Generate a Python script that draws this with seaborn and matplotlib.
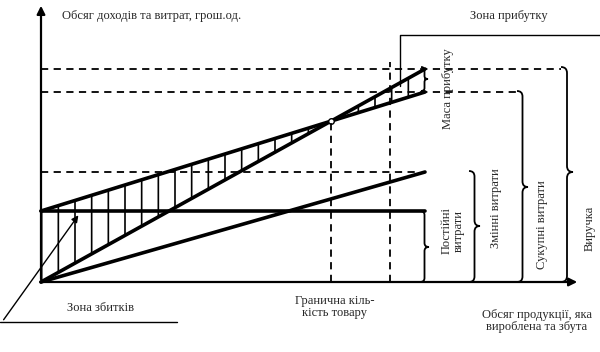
import numpy as np
import pandas as pd
import matplotlib.pyplot as plt
import seaborn as sns
from matplotlib.path import Path
from matplotlib.patches import PathPatch

# Break-even chart: output (x) against income / costs (y), arbitrary units
quantity = [0, 100]
fixed_costs = [71, 71]
variable_costs = [0, 110]
total_costs = [71, 190]
revenue = [0, 213]
target_quantity = 91

sns.set_style('white')
plt.rcParams['font.family'] = ['Liberation Serif', 'DejaVu Serif']
plt.rcParams['hatch.linewidth'] = 1.2

# axes covers the whole 600x352 figure, so pixel positions map linearly to data
X0, Y0, SX = 41, 282, 3.84


def px(x):
    return (x - X0) / SX


def py(y):
    return Y0 - y


def brace(ax, x, y_top, y_bot, w, y_tip=None, r=None, lw=1.3):
    # right-pointing curly brace "}" given in pixel coordinates
    if y_tip is None:
        y_tip = (y_top + y_bot) / 2
    if r is None:
        r = w / 2
    xm = x + w / 2
    pts = [(x, y_top), (xm, y_top), (xm, y_top + r),
           (xm, y_tip - r), (xm, y_tip), (x + w, y_tip),
           (xm, y_tip), (xm, y_tip + r),
           (xm, y_bot - r), (xm, y_bot), (x, y_bot)]
    codes = [Path.MOVETO, Path.CURVE3, Path.CURVE3,
             Path.LINETO, Path.CURVE3, Path.CURVE3,
             Path.CURVE3, Path.CURVE3,
             Path.LINETO, Path.CURVE3, Path.CURVE3]
    verts = [(px(a), py(b)) for a, b in pts]
    ax.add_patch(PathPatch(Path(verts, codes), fill=False, lw=lw, color='black'))


df = pd.DataFrame({'q': quantity, 'fixed': fixed_costs, 'variable': variable_costs,
                   'total': total_costs, 'revenue': revenue})
long = df.melt(id_vars='q', var_name='series', value_name='value')

fig = plt.figure(figsize=(6, 3.52), dpi=100)
ax = fig.add_axes([0, 0, 1, 1])

sns.lineplot(data=long, x='q', y='value', hue='series',
             palette={s: 'black' for s in long['series'].unique()},
             linewidth=2.6, legend=False, ax=ax)

# break-even point
slope_r = (revenue[1] - revenue[0]) / (quantity[1] - quantity[0])
slope_t = (total_costs[1] - total_costs[0]) / (quantity[1] - quantity[0])
be_q = (total_costs[0] - revenue[0]) / (slope_r - slope_t)
be_m = revenue[0] + slope_r * be_q

# hatched loss / profit zones between revenue and total costs
qs = np.array([quantity[0], be_q, quantity[1]])
rev_q = np.interp(qs, quantity, revenue)
tot_q = np.interp(qs, quantity, total_costs)
ax.fill_between(qs, tot_q, rev_q, hatch='|', facecolor='none',
                edgecolor='black', linewidth=0)

ax.plot(be_q, be_m, 'o', ms=4, mfc='white', mec='black', mew=1)

# dashed guide lines
dash = (0, (4, 3))
ax.hlines(revenue[-1], 0, px(561), colors='black', linestyles=dash, lw=1.3)
ax.hlines(total_costs[-1], 0, px(517), colors='black', linestyles=dash, lw=1.3)
ax.hlines(variable_costs[-1], 0, px(420), colors='black', linestyles=dash, lw=1.3)
ax.vlines(be_q, 0, be_m, colors='black', linestyles=dash, lw=1.3)
ax.vlines(target_quantity, 0, py(62), colors='black', linestyles=dash, lw=1.3)

# axes with arrows
arrow = dict(arrowstyle='-|>', lw=1.6, color='black', mutation_scale=12)
ax.annotate('', xy=(px(580), 0), xytext=(px(41), 0), arrowprops=arrow)
ax.annotate('', xy=(0, py(3)), xytext=(0, 0), arrowprops=arrow)

# braces on the right
brace(ax, 421, 67, 91, 7, r=3)
brace(ax, 420, 211, 282, 9, y_tip=247, r=4)
brace(ax, 469, 171, 282, 11, y_tip=226)
brace(ax, 517, 91, 282, 11, y_tip=187)
brace(ax, 561, 67, 282, 12, y_tip=172)

# profit zone marker and loss zone pointer
ax.plot([px(400), px(400), px(600)], [py(86), py(35), py(35)], color='black', lw=1)
ax.annotate('', xy=(px(80), py(213)), xytext=(px(2), py(322)),
            arrowprops=dict(arrowstyle='-|>', lw=1, color='black', mutation_scale=10))
ax.plot([px(0), px(177)], [py(322), py(322)], color='black', lw=1)

fs = 9
ax.text(px(62), py(16), 'Обсяг доходів та витрат, грош.од.', ha='left', va='center', fontsize=fs)
ax.text(px(509), py(16), 'Зона прибутку', ha='center', va='center', fontsize=fs)
ax.text(px(101), py(308), 'Зона збитків', ha='center', va='center', fontsize=fs)
ax.text(px(335), py(307), 'Гранична кіль-\nкість товару', ha='center', va='center',
        fontsize=fs, linespacing=1.05)
ax.text(px(537), py(321), 'Обсяг продукції, яка\nвироблена та збута', ha='center',
        va='center', fontsize=fs, linespacing=1.0)
ax.text(px(448), py(89), 'Маса прибутку', rotation=90, ha='center', va='center', fontsize=fs)
ax.text(px(453), py(231), 'Постійні\nвитрати', rotation=90, ha='center', va='center',
        fontsize=fs, linespacing=1.0)
ax.text(px(496), py(208), 'Змінні витрати', rotation=90, ha='center', va='center', fontsize=fs)
ax.text(px(542), py(225), 'Сукупні витрати', rotation=90, ha='center', va='center', fontsize=fs)
ax.text(px(590), py(228), 'Виручка', rotation=90, ha='center', va='center', fontsize=fs)

ax.set_xlim(px(0), px(600))
ax.set_ylim(py(352), py(0))
ax.axis('off')

fig.savefig('out.png', dpi=100)
plt.close(fig)
